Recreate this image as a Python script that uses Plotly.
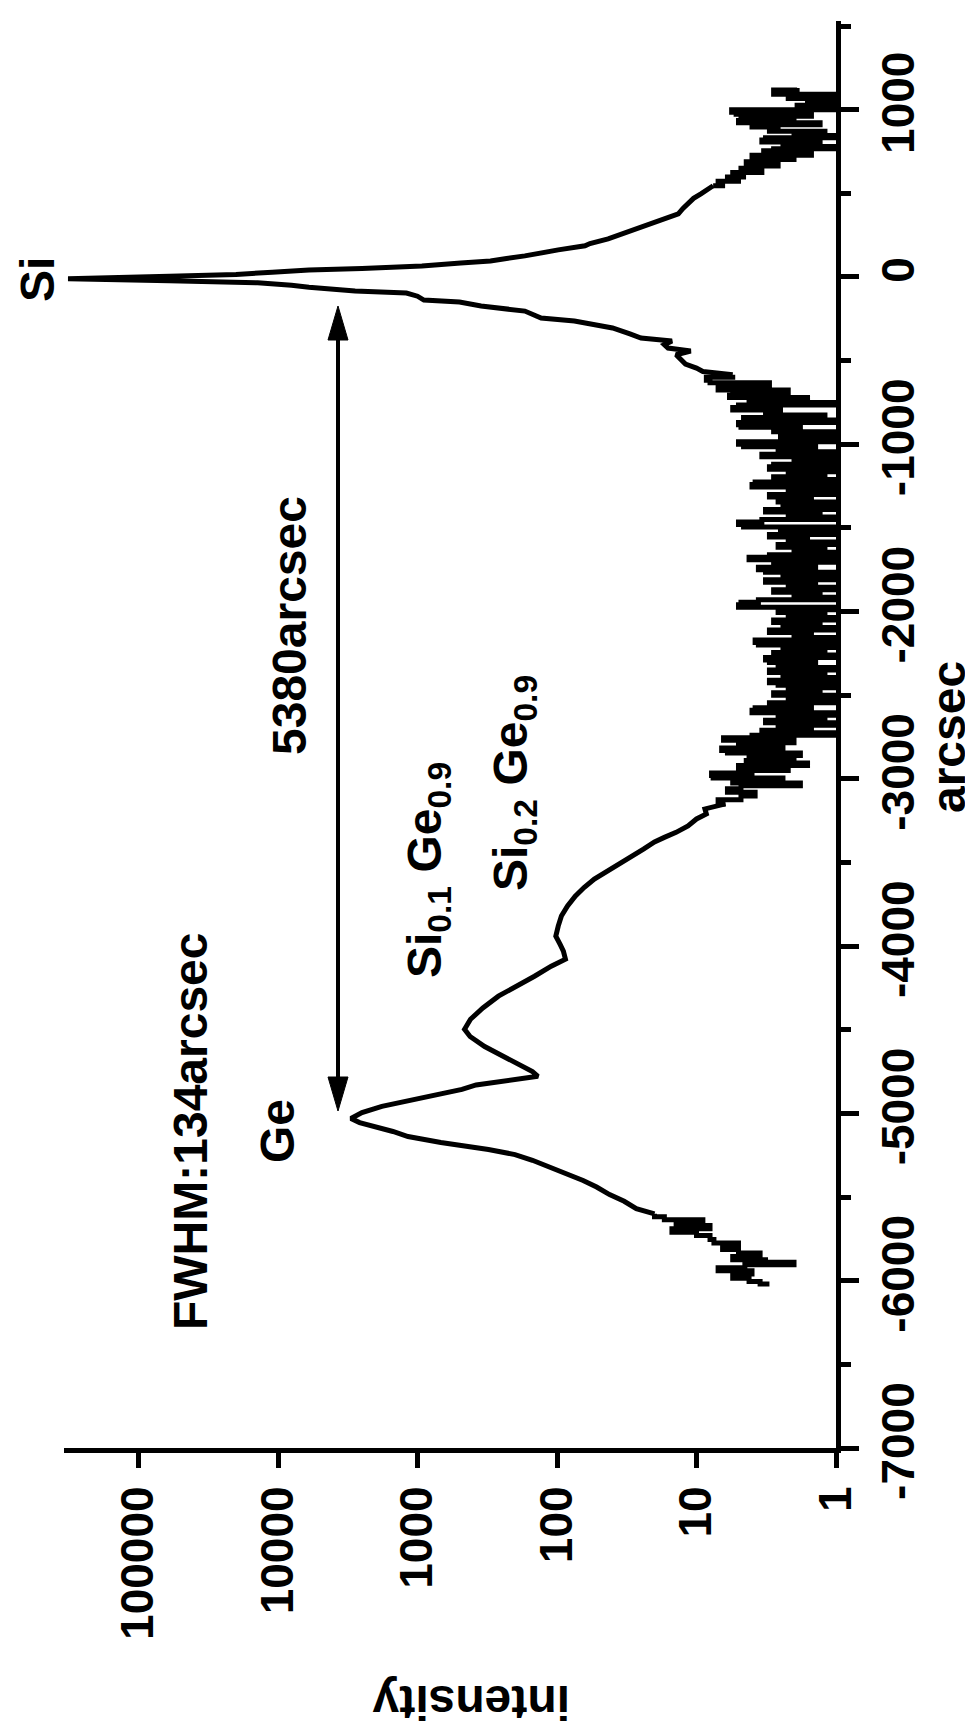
import plotly.graph_objects as go

# ---------------- data ----------------
# segment 1: positive-side noisy tail (arcsec, intensity)
upper_noise_arcsec = [1130, 1118, 1105, 1092, 1080, 1066, 1052, 1040, 1026, 1012,
                      1000, 985, 972, 960, 948, 935, 922, 910, 897, 884,
                      871, 858, 845, 832, 819, 806, 793, 780, 767, 754,
                      741, 728, 715, 702, 689, 676, 663, 650, 637, 624,
                      611, 598, 585, 572, 558, 545]
upper_noise_int = [1.9, 2.8, 2.8, 1.0, 2.2, 1.0, 1.6, 1.0, 1.9, 1.0,
                   5.6, 5.2, 1.5, 4.8, 2.0, 5.0, 1.3, 4.0, 2.6, 3.0,
                   1.2, 2.0, 1.0, 3.2, 3.4, 1.3, 2.4, 1.0, 2.8, 3.3,
                   1.5, 4.0, 2.0, 3.6, 4.4, 2.6, 3.8, 4.8, 3.4, 5.5,
                   4.6, 6.0, 5.0, 7.0, 6.5, 7.6]

# segment 2: Si substrate peak
si_arcsec = [545, 520, 497, 470, 440, 410, 377, 340, 299, 260,
             228, 200, 186, 162, 140, 126, 110, 96, 84, 66,
             50, 42, 28, 15, 4, -10, -22, -35, -50, -62,
             -84, -96, -115, -138, -150, -174, -204, -225, -246, -263,
             -285, -305, -340, -365, -383, -405, -425, -443, -465, -490,
             -521, -545, -565, -585]
si_int = [7.6, 8.6, 9.3, 10.5, 11.5, 12.5, 13.5, 18, 23.5, 32,
          43, 58, 63, 98, 130, 170, 230, 300, 490, 930,
          2500, 6000, 11000, 20000, 60000, 320000, 60000, 14000, 8000, 6000,
          2800, 1200, 1000, 900, 500, 350, 170, 150, 130, 75,
          55, 40, 30, 25, 15, 17, 16, 11, 14, 13,
          12, 10, 9, 5.5]

# segment 3: noisy background between Si and the SiGe/Ge layers
mid_arcsec = [-585, -600, -617, -632, -648, -662, -676, -692, -707, -720,
              -735, -750, -765, -780, -795, -810, -825, -840, -855, -870,
              -884, -898, -912, -926, -940, -955, -970, -985, -1000, -1015,
              -1030, -1045, -1060, -1075, -1090, -1105, -1120, -1135, -1150, -1165,
              -1180, -1195, -1210, -1225, -1240, -1255, -1270, -1285, -1300, -1315,
              -1330, -1345, -1360, -1375, -1390, -1405, -1420, -1435, -1450, -1465,
              -1480, -1495, -1510, -1525, -1540, -1555, -1570, -1585, -1600, -1615,
              -1630, -1645, -1660, -1675, -1690, -1705, -1720, -1735, -1750, -1765,
              -1780, -1795, -1810, -1825, -1840, -1855, -1870, -1885, -1900, -1915,
              -1930, -1945, -1960, -1975, -1990, -2005, -2020, -2035, -2050, -2065,
              -2080, -2095, -2110, -2125, -2140, -2155, -2170, -2185, -2200, -2215,
              -2230, -2245, -2260, -2275, -2290, -2305, -2320, -2335, -2350, -2365,
              -2380, -2395, -2410, -2425, -2440, -2455, -2470, -2485, -2500, -2515,
              -2530, -2545, -2560, -2575, -2590, -2605, -2620, -2635, -2650, -2665,
              -2680, -2695, -2710, -2725, -2740, -2755, -2770, -2785, -2800, -2815,
              -2830, -2845, -2860, -2875, -2890, -2905, -2920, -2935, -2950, -2965,
              -2980, -2995, -3010, -3025, -3042, -3060, -3080, -3102, -3125, -3150]
mid_int = [5.5, 8.5, 8.0, 3.0, 6.5, 7.0, 2.2, 5.5, 5.8, 1.6,
           4.2, 1.0, 5.0, 5.5, 2.5, 3.2, 1.2, 4.6, 1.0, 5.0,
           4.8, 1.8, 2.8, 1.0, 2.5, 1.3, 1.0, 5.0, 4.6, 1.4,
           2.6, 1.0, 3.4, 1.0, 2.0, 1.0, 2.8, 3.0, 1.0, 2.2,
           1.2, 2.8, 1.0, 3.8, 4.0, 1.0, 2.2, 1.0, 3.0, 1.5,
           2.6, 1.0, 2.4, 1.0, 3.2, 1.3, 2.2, 1.0, 3.4, 5.0,
           4.6, 1.0, 2.5, 1.0, 3.0, 1.6, 2.2, 1.0, 2.6, 1.2,
           2.0, 1.0, 3.0, 4.2, 1.0, 2.8, 1.4, 3.6, 3.2, 1.0,
           2.4, 1.0, 3.2, 1.4, 2.2, 1.0, 2.8, 1.3, 2.0, 1.0,
           3.6, 4.8, 5.0, 1.0, 2.6, 1.2, 2.2, 1.0, 2.8, 1.3,
           2.4, 1.0, 3.0, 1.5, 2.0, 1.0, 3.8, 3.6, 1.0, 2.4,
           1.2, 2.8, 1.0, 3.2, 3.0, 1.4, 2.6, 1.0, 3.0, 1.2,
           2.4, 1.0, 3.0, 2.6, 1.0, 2.2, 1.3, 2.8, 1.0, 2.2,
           1.0, 3.0, 1.5, 3.8, 4.0, 1.0, 2.6, 1.2, 3.2, 1.0,
           2.6, 1.5, 3.4, 1.0, 4.0, 6.4, 2.0, 5.0, 2.4, 6.6,
           6.0, 1.8, 4.2, 2.0, 4.4, 1.6, 5.0, 2.2, 4.0, 7.8,
           7.6, 2.4, 5.5, 1.8, 4.8, 6.0, 3.8, 4.8, 7.0, 6.2]

# segment 4: Si0.2Ge0.9 shoulder, Si0.1Ge0.9 peak and Ge peak
ge_arcsec = [-3150, -3180, -3210, -3240, -3281, -3320, -3350, -3377, -3420, -3479,
             -3530, -3599, -3650, -3701, -3760, -3820, -3880, -3940, -3990, -4030,
             -4078, -4120, -4180, -4240, -4299, -4370, -4437, -4497, -4540, -4600,
             -4650, -4700, -4750, -4778, -4800, -4830, -4856, -4886, -4916, -4958,
             -4995, -5030, -5055, -5078, -5108, -5138, -5174, -5216, -5246, -5280,
             -5317, -5360, -5401, -5440, -5485, -5525, -5569, -5600]
ge_int = [6.2, 8.7, 8.5, 10, 11.5, 14, 17, 20, 24, 31,
          40, 54, 64, 74, 84, 93, 98, 102, 95, 90,
          87, 110, 145, 200, 263, 340, 417, 460, 420, 330,
          250, 190, 150, 137, 220, 380, 480, 700, 1100, 1800,
          2500, 3000, 2600, 2000, 1500, 1170, 680, 310, 200, 150,
          115, 85, 65, 52, 42, 33, 27, 20]

# segment 5: noisy end of the scan
tail_arcsec = [-5600, -5617, -5635, -5653, -5670, -5690, -5710, -5730, -5754, -5775,
               -5795, -5814, -5835, -5855, -5874, -5890, -5905, -5922, -5940, -5960,
               -5985, -6005, -6020]
tail_int = [20, 17, 9, 14, 8, 15, 10, 8, 7.5, 5,
            6.5, 5, 3.5, 5.5, 3.2, 2, 4.5, 7, 4, 5.5,
            4.2, 3.5, 3]

int_tickvals = [1, 10, 100, 1000, 10000, 100000]
int_ticktext = ["1", "10", "100", "1000", "10000", "100000"]
arc_tickvals = [-7000, -6000, -5000, -4000, -3000, -2000, -1000, 0, 1000]
arc_ticktext = ["-7000", "-6000", "-5000", "-4000", "-3000", "-2000", "-1000", "0", "1000"]

# ---------------- layout geometry (pixels) ----------------
W, H = 973, 1731
L, R, T, B = 56, 828, 13, 1440   # plot area edges


def px(X):
    return (X - L) / (R - L)


def py(Y):
    return (B - Y) / (B - T)


FONT = "Liberation Sans, Arial, sans-serif"
LINE = dict(color="black", width=5)

fig = go.Figure()
segments = [
    (upper_noise_int, upper_noise_arcsec, "vh"),
    (si_int, si_arcsec, "linear"),
    (mid_int, mid_arcsec, "vh"),
    (ge_int, ge_arcsec, "linear"),
    (tail_int, tail_arcsec, "vh"),
]
for xs, ys, shape in segments:
    fig.add_trace(go.Scatter(x=xs, y=ys, mode="lines", line=dict(LINE, shape=shape),
                             showlegend=False, hoverinfo="skip"))

tickfont = dict(family=FONT, size=46, color="black", weight="bold")
fig.update_layout(
    width=W, height=H,
    margin=dict(l=L, r=W - R, t=T, b=H - B, pad=0),
    paper_bgcolor="white", plot_bgcolor="white",
    showlegend=False,
    xaxis=dict(type="log", range=[(R - L) / 139.5, 0], showgrid=False, zeroline=False,
               showline=True, linecolor="black", linewidth=5,
               ticks="outside", ticklen=15, tickwidth=5, tickcolor="black",
               tickvals=int_tickvals, ticktext=int_ticktext, tickangle=-90,
               tickfont=tickfont, automargin=False),
    yaxis=dict(range=[-7000, 1530], side="right", showgrid=False, zeroline=False,
               showline=True, linecolor="black", linewidth=5,
               ticks="outside", ticklen=18, tickwidth=5, tickcolor="black",
               tickvals=arc_tickvals, ticktext=arc_ticktext, tickangle=-90,
               tickfont=tickfont, automargin=False,
               minor=dict(dtick=500, ticks="outside", ticklen=10, tickwidth=5,
                          tickcolor="black")),
)

afont = dict(family=FONT, size=48, color="black", weight="bold")
labels = [
    ("Si", 30, 272, -90),
    ("FWHM:134arcsec", 182, 1123, -90),
    ("Ge", 269, 1123, -90),
    ("5380arcsec", 281, 618, -90),
    ("Si<sub>0.1</sub> Ge<sub>0.9</sub>", 420, 862, -90),
    ("Si<sub>0.2</sub> Ge<sub>0.9</sub>", 506, 775, -90),
    ("arcsec", 940, 729, -90),
    ("intensity", 463, 1694, 180),
]
for text, X, Y, ang in labels:
    fig.add_annotation(text=text, x=px(X), y=py(Y), xref="paper", yref="paper",
                       showarrow=False, textangle=ang, font=afont, borderpad=0,
                       xanchor="center", yanchor="middle")

# double-headed arrow between Si and Ge peaks
ax = 330
top_tip, bot_tip, head, half = 298, 1103, 34, 10
fig.add_shape(type="line", xref="paper", yref="paper",
              x0=px(ax), x1=px(ax), y0=py(top_tip + head - 2), y1=py(bot_tip - head + 2),
              line=dict(color="black", width=4))
for tip, base in [(top_tip, top_tip + head), (bot_tip, bot_tip - head)]:
    path = (f"M {px(ax)} {py(tip)} L {px(ax - half)} {py(base)} "
            f"L {px(ax + half)} {py(base)} Z")
    fig.add_shape(type="path", xref="paper", yref="paper", path=path,
                  fillcolor="black", line=dict(color="black", width=1))

fig.write_html("out.html", config={"displayModeBar": False})
